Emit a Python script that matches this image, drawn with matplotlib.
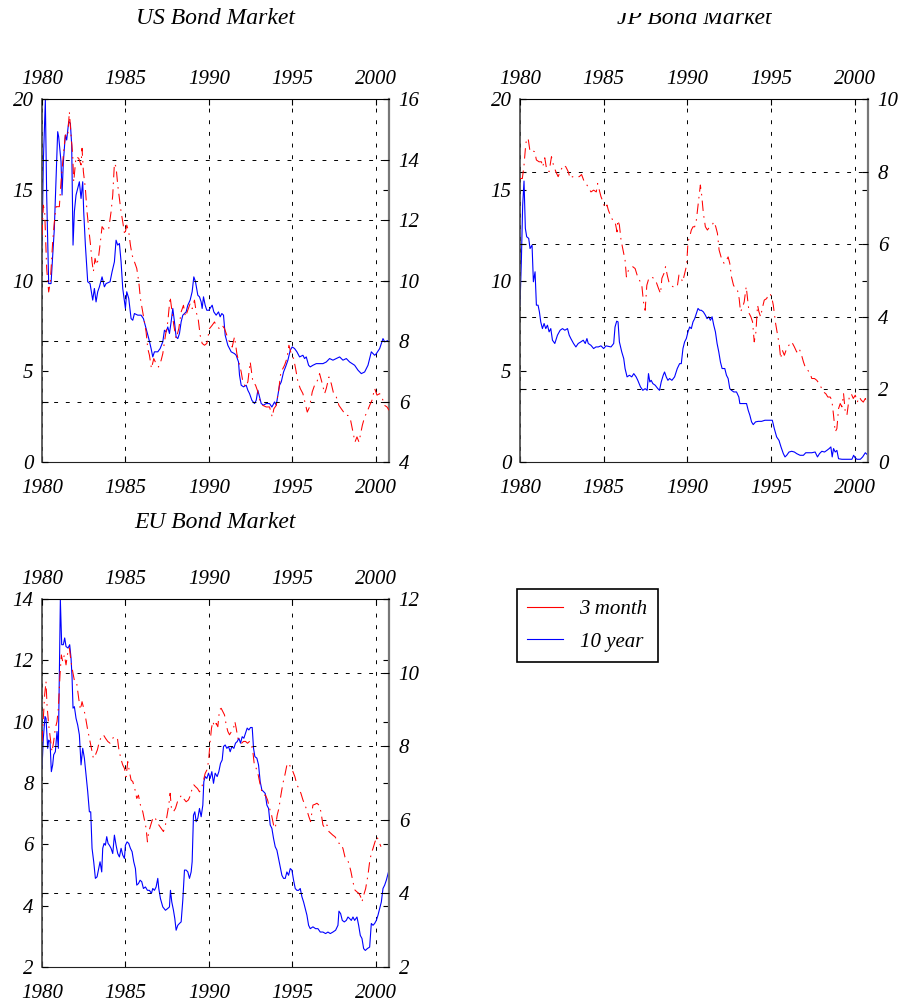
import matplotlib
matplotlib.use("Agg")
import matplotlib.pyplot as plt
from matplotlib.lines import Line2D
from matplotlib.patches import Rectangle

plt.rcParams["font.family"] = ["Liberation Serif", "DejaVu Serif"]
plt.rcParams["font.style"] = "italic"

# ---------------- US ----------------
us_10y_t = [1980.00, 1980.08, 1980.20, 1980.28, 1980.40, 1980.54, 1980.74, 1980.94, 1981.00, 1981.14,
            1981.20, 1981.28, 1981.40, 1981.48, 1981.60, 1981.70, 1981.78, 1981.86, 1981.94, 1982.04,
            1982.14, 1982.24, 1982.34, 1982.44, 1982.50, 1982.60, 1982.74, 1982.88, 1983.04, 1983.14,
            1983.24, 1983.34, 1983.44, 1983.60, 1983.74, 1983.84, 1984.08, 1984.20, 1984.34, 1984.44,
            1984.54, 1984.64, 1984.74, 1984.84, 1985.00, 1985.08, 1985.20, 1985.34, 1985.44, 1985.54,
            1985.74, 1985.94, 1986.08, 1986.24, 1986.40, 1986.54, 1986.64, 1986.74, 1986.94, 1987.08,
            1987.24, 1987.34, 1987.44, 1987.54, 1987.64, 1987.74, 1987.84, 1987.94, 1988.04, 1988.14,
            1988.24, 1988.34, 1988.44, 1988.64, 1988.74, 1988.88, 1989.00, 1989.10, 1989.20, 1989.34,
            1989.44, 1989.54, 1989.60, 1989.68, 1989.78, 1989.88, 1990.00, 1990.20, 1990.30, 1990.44,
            1990.58, 1990.68, 1990.78, 1990.88, 1990.98, 1991.14, 1991.34, 1991.54, 1991.64, 1991.78,
            1991.84, 1991.94, 1992.08, 1992.24, 1992.34, 1992.44, 1992.58, 1992.74, 1992.84, 1992.94,
            1993.04, 1993.14, 1993.28, 1993.44, 1993.64, 1993.78, 1993.94, 1994.04, 1994.14, 1994.24,
            1994.34, 1994.48, 1994.60, 1994.74, 1994.88, 1995.00, 1995.14, 1995.28, 1995.44, 1995.64,
            1995.74, 1995.84, 1995.98, 1996.08, 1996.24, 1996.44, 1996.84, 1997.04, 1997.24, 1997.44,
            1997.64, 1997.84, 1998.04, 1998.24, 1998.44, 1998.74, 1998.94, 1999.14, 1999.34, 1999.54,
            1999.64, 1999.74, 1999.94, 2000.04, 2000.24, 2000.44, 2000.54, 2000.80]
us_10y = [11.95, 16.54, 19.94, 14.71, 9.83, 9.83, 12.87, 18.20, 17.92, 16.54,
          14.71, 16.54, 18.01, 17.74, 18.75, 18.66, 17.46, 11.95, 13.79, 14.71,
          15.07, 15.44, 14.52, 15.44, 13.79, 11.95, 9.93, 9.83, 8.92, 9.56,
          8.82, 9.38, 9.65, 10.20, 9.65, 9.83, 9.93, 10.48, 11.03, 12.22,
          11.95, 12.04, 11.03, 9.56, 8.46, 9.38, 9.01, 7.90, 7.81, 8.18,
          8.09, 8.09, 7.90, 7.35, 6.80, 6.25, 5.79, 6.07, 6.07, 6.25,
          6.62, 7.26, 7.17, 7.44, 7.08, 7.72, 8.46, 7.72, 6.89, 6.80,
          7.08, 7.72, 8.09, 8.27, 8.64, 8.92, 9.38, 10.20, 9.93, 9.19,
          9.10, 8.82, 8.46, 9.10, 8.64, 8.36, 8.36, 8.64, 8.27, 8.09,
          8.27, 8.00, 8.18, 8.09, 6.99, 6.43, 6.07, 5.97, 5.88, 5.51,
          4.78, 4.23, 4.14, 4.23, 3.95, 3.77, 3.40, 3.22, 3.40, 3.95,
          3.58, 3.22, 3.13, 3.22, 3.22, 3.03, 3.31, 3.13, 3.68, 4.23,
          4.41, 4.96, 5.24, 5.61, 6.16, 6.34, 6.25, 6.07, 5.79, 5.88,
          5.70, 5.79, 5.33, 5.24, 5.33, 5.42, 5.42, 5.51, 5.70, 5.61,
          5.70, 5.79, 5.61, 5.70, 5.51, 5.33, 5.06, 4.87, 4.96, 5.33,
          5.70, 6.07, 5.88, 5.97, 6.25, 6.80, 6.62, 6.71]

us_3m_t = [1980.00, 1980.08, 1980.16, 1980.28, 1980.40, 1980.50, 1980.64, 1980.74, 1980.84, 1981.04,
           1981.14, 1981.28, 1981.40, 1981.54, 1981.64, 1981.74, 1981.84, 1981.90, 1982.04, 1982.20,
           1982.34, 1982.40, 1982.48, 1982.60, 1982.70, 1982.80, 1982.90, 1983.00, 1983.08, 1983.18,
           1983.28, 1983.38, 1983.50, 1983.60, 1983.74, 1983.88, 1984.00, 1984.14, 1984.24, 1984.34,
           1984.44, 1984.54, 1984.64, 1984.74, 1984.84, 1984.96, 1985.08, 1985.20, 1985.30, 1985.40,
           1985.54, 1985.68, 1985.80, 1985.90, 1986.04, 1986.14, 1986.24, 1986.34, 1986.44, 1986.56,
           1986.70, 1986.84, 1986.98, 1987.14, 1987.24, 1987.40, 1987.54, 1987.68, 1987.80, 1987.90,
           1988.04, 1988.20, 1988.34, 1988.48, 1988.60, 1988.74, 1988.88, 1989.00, 1989.14, 1989.24,
           1989.36, 1989.48, 1989.60, 1989.74, 1989.88, 1990.04, 1990.20, 1990.34, 1990.48, 1990.64,
           1990.80, 1990.94, 1991.08, 1991.24, 1991.40, 1991.54, 1991.68, 1991.80, 1991.94, 1992.04,
           1992.20, 1992.34, 1992.48, 1992.64, 1992.80, 1992.94, 1993.08, 1993.24, 1993.44, 1993.64,
           1993.80, 1993.90, 1994.04, 1994.20, 1994.32, 1994.44, 1994.54, 1994.68, 1994.80, 1994.94,
           1995.08, 1995.20, 1995.34, 1995.48, 1995.64, 1995.78, 1995.90, 1996.04, 1996.20, 1996.34,
           1996.48, 1996.64, 1996.80, 1996.94, 1997.04, 1997.20, 1997.34, 1997.48, 1997.64, 1997.80,
           1997.94, 1998.08, 1998.20, 1998.34, 1998.48, 1998.64, 1998.76, 1998.88, 1999.00, 1999.10,
           1999.20, 1999.34, 1999.48, 1999.64, 1999.78, 1999.94, 2000.08, 2000.24, 2000.40, 2000.54,
           2000.68, 2000.80]
us_3m = [11.50, 12.49, 12.27, 10.40, 9.62, 9.96, 11.28, 11.94, 12.44, 12.44,
         13.26, 14.15, 14.81, 14.75, 15.58, 14.81, 14.15, 13.26, 14.09, 14.04,
         13.82, 14.37, 13.60, 13.04, 12.27, 11.72, 11.22, 10.62, 10.29, 10.73,
         10.51, 10.73, 11.28, 11.78, 11.67, 11.67, 11.72, 12.27, 12.82, 13.87,
         13.76, 13.15, 12.71, 12.27, 11.94, 11.50, 11.83, 11.61, 11.17, 10.84,
         10.62, 10.40, 9.96, 9.40, 8.96, 8.63, 8.30, 7.75, 7.53, 7.09,
         7.42, 7.25, 7.14, 7.36, 7.58, 8.19, 8.63, 9.46, 8.96, 8.52,
         8.08, 8.41, 8.96, 9.18, 8.80, 9.02, 9.24, 9.07, 9.35, 8.96,
         8.74, 8.19, 7.92, 7.86, 7.92, 8.41, 8.52, 8.63, 8.47, 8.41,
         8.52, 8.41, 8.19, 7.97, 7.80, 8.14, 7.58, 7.31, 6.98, 6.65,
         6.48, 6.65, 7.31, 6.65, 6.54, 6.32, 5.99, 5.87, 5.82, 5.82,
         5.49, 5.76, 5.87, 6.43, 6.98, 7.09, 7.20, 7.42, 7.86, 7.58,
         7.42, 7.09, 6.65, 6.43, 6.26, 5.93, 5.65, 5.82, 6.32, 6.54,
         6.65, 6.92, 6.59, 6.26, 6.43, 6.81, 6.59, 6.26, 6.15, 5.87,
         5.76, 5.65, 5.54, 5.54, 5.43, 4.99, 4.66, 4.83, 4.66, 4.94,
         5.21, 5.49, 5.65, 5.87, 6.04, 6.43, 6.21, 6.26, 6.10, 5.87,
         5.82, 5.71]

# ---------------- JP ----------------
jp_10y_t = [1980.00, 1980.08, 1980.16, 1980.24, 1980.32, 1980.40, 1980.52, 1980.60, 1980.72, 1980.80,
            1980.90, 1980.98, 1981.08, 1981.16, 1981.24, 1981.34, 1981.44, 1981.54, 1981.64, 1981.74,
            1981.84, 1981.94, 1982.08, 1982.24, 1982.40, 1982.54, 1982.68, 1982.84, 1982.94, 1983.04,
            1983.20, 1983.34, 1983.48, 1983.64, 1983.78, 1983.90, 1984.00, 1984.08, 1984.24, 1984.40,
            1984.54, 1984.68, 1984.84, 1985.00, 1985.14, 1985.44, 1985.60, 1985.68, 1985.78, 1985.86,
            1985.94, 1986.08, 1986.20, 1986.28, 1986.40, 1986.54, 1986.68, 1986.80, 1986.94, 1987.04,
            1987.20, 1987.34, 1987.48, 1987.60, 1987.68, 1987.76, 1987.84, 1987.94, 1988.08, 1988.24,
            1988.34, 1988.44, 1988.56, 1988.64, 1988.74, 1988.84, 1988.94, 1989.08, 1989.24, 1989.40,
            1989.54, 1989.64, 1989.74, 1989.84, 1989.94, 1990.04, 1990.14, 1990.24, 1990.34, 1990.44,
            1990.54, 1990.64, 1990.74, 1990.84, 1990.96, 1991.08, 1991.18, 1991.28, 1991.38, 1991.48,
            1991.58, 1991.68, 1991.78, 1991.88, 1991.98, 1992.08, 1992.24, 1992.34, 1992.44, 1992.54,
            1992.64, 1992.78, 1992.94, 1993.08, 1993.14, 1993.54, 1993.64, 1993.74, 1993.84, 1993.94,
            1994.08, 1994.24, 1994.44, 1994.64, 1995.08, 1995.20, 1995.34, 1995.48, 1995.60, 1995.74,
            1995.84, 1995.94, 1996.08, 1996.24, 1996.40, 1996.54, 1996.74, 1996.94, 1997.08, 1997.44,
            1997.64, 1997.78, 1997.90, 1998.04, 1998.20, 1998.34, 1998.48, 1998.58, 1998.66, 1998.74,
            1998.84, 1998.94, 1999.04, 1999.24, 1999.84, 1999.94, 2000.04, 2000.14, 2000.34, 2000.48,
            2000.64, 2000.80]
jp_10y = [8.64, 11.03, 14.15, 15.48, 12.87, 12.41, 12.32, 11.76, 11.95, 9.93,
          10.48, 8.64, 8.64, 8.27, 7.72, 7.35, 7.63, 7.35, 7.54, 7.17,
          7.35, 6.71, 6.53, 6.99, 7.26, 7.35, 7.26, 7.35, 6.99, 6.80,
          6.53, 6.34, 6.53, 6.62, 6.71, 6.53, 6.80, 6.53, 6.43, 6.25,
          6.34, 6.34, 6.40, 6.25, 6.40, 6.34, 6.53, 7.44, 7.76, 7.72,
          6.62, 6.07, 5.70, 5.15, 4.69, 4.78, 4.69, 4.87, 4.69, 4.50,
          4.14, 3.95, 4.04, 3.95, 4.87, 4.41, 4.50, 4.32, 4.23, 4.04,
          3.95, 4.41, 4.78, 4.96, 4.69, 4.50, 4.60, 4.50, 4.69, 5.15,
          5.42, 5.42, 6.25, 6.62, 6.80, 7.17, 7.44, 7.35, 7.72, 7.90,
          8.18, 8.46, 8.36, 8.36, 8.27, 8.09, 7.90, 8.00, 7.81, 8.00,
          7.54, 7.17, 6.53, 6.07, 5.51, 5.15, 5.15, 4.78, 4.60, 4.04,
          3.95, 3.86, 3.86, 3.58, 3.22, 3.22, 2.85, 2.57, 2.21, 2.06,
          2.21, 2.24, 2.24, 2.30, 2.30, 1.84, 1.38, 1.19, 0.83, 0.46,
          0.28, 0.37, 0.55, 0.59, 0.55, 0.46, 0.37, 0.37, 0.51, 0.51,
          0.55, 0.28, 0.46, 0.59, 0.55, 0.64, 0.74, 0.83, 0.28, 0.74,
          0.55, 0.64, 0.18, 0.15, 0.15, 0.37, 0.22, 0.15, 0.15, 0.28,
          0.51, 0.37]

jp_3m_t = [1980.00, 1980.14, 1980.24, 1980.34, 1980.40, 1980.50, 1980.60, 1980.74, 1980.88, 1980.98,
           1981.14, 1981.28, 1981.36, 1981.48, 1981.60, 1981.74, 1981.88, 1982.00, 1982.14, 1982.28,
           1982.44, 1982.60, 1982.74, 1982.88, 1983.00, 1983.14, 1983.34, 1983.54, 1983.68, 1983.84,
           1984.00, 1984.12, 1984.24, 1984.40, 1984.56, 1984.64, 1984.74, 1984.84, 1984.96, 1985.08,
           1985.20, 1985.28, 1985.40, 1985.54, 1985.68, 1985.80, 1985.84, 1985.94, 1986.04, 1986.20,
           1986.28, 1986.36, 1986.48, 1986.60, 1986.74, 1986.88, 1987.00, 1987.14, 1987.28, 1987.38,
           1987.48, 1987.58, 1987.70, 1987.84, 1988.00, 1988.14, 1988.28, 1988.40, 1988.48, 1988.60,
           1988.70, 1988.80, 1988.90, 1989.00, 1989.14, 1989.28, 1989.40, 1989.50, 1989.60, 1989.72,
           1989.84, 1989.96, 1990.04, 1990.14, 1990.24, 1990.34, 1990.44, 1990.54, 1990.64, 1990.70,
           1990.78, 1990.86, 1990.96, 1991.08, 1991.20, 1991.34, 1991.48, 1991.60, 1991.70, 1991.80,
           1991.90, 1992.04, 1992.20, 1992.34, 1992.44, 1992.54, 1992.64, 1992.76, 1992.88, 1993.00,
           1993.10, 1993.18, 1993.28, 1993.40, 1993.52, 1993.60, 1993.70, 1993.80, 1993.90, 1994.00,
           1994.10, 1994.20, 1994.28, 1994.38, 1994.48, 1994.60, 1994.74, 1994.84, 1994.94, 1995.04,
           1995.14, 1995.28, 1995.40, 1995.50, 1995.58, 1995.68, 1995.80, 1995.94, 1996.08, 1996.24,
           1996.40, 1996.54, 1996.68, 1996.80, 1996.94, 1997.08, 1997.20, 1997.34, 1997.44, 1997.60,
           1997.74, 1997.88, 1998.04, 1998.14, 1998.28, 1998.40, 1998.54, 1998.64, 1998.74, 1998.84,
           1998.94, 1999.04, 1999.14, 1999.24, 1999.34, 1999.44, 1999.54, 1999.68, 1999.80, 1999.92,
           2000.04, 2000.16, 2000.28, 2000.40, 2000.52, 2000.64, 2000.74]
jp_3m = [7.81, 7.81, 8.18, 8.73, 8.92, 8.87, 8.55, 8.57, 8.55, 8.32,
         8.27, 8.27, 8.13, 8.38, 8.04, 8.00, 8.41, 8.18, 8.00, 7.86,
         8.04, 8.18, 8.13, 8.00, 7.81, 7.86, 7.86, 7.86, 7.92, 7.72,
         7.63, 7.54, 7.44, 7.49, 7.44, 7.67, 7.49, 7.31, 7.17, 6.99,
         7.08, 6.94, 6.80, 6.66, 6.62, 6.34, 6.66, 6.53, 6.11, 5.74,
         5.56, 5.10, 5.28, 5.33, 5.38, 5.33, 5.15, 5.01, 4.87, 4.41,
         4.18, 4.87, 5.06, 5.10, 5.06, 4.96, 4.78, 4.64, 5.06, 5.19,
         5.38, 5.15, 4.96, 4.87, 4.83, 4.83, 4.83, 5.15, 5.10, 4.96,
         5.19, 5.42, 6.07, 6.20, 6.39, 6.48, 6.48, 6.66, 7.08, 7.31,
         7.63, 7.35, 6.85, 6.48, 6.39, 6.48, 6.53, 6.62, 6.48, 6.30,
         5.84, 5.61, 5.47, 5.56, 5.65, 5.47, 5.10, 4.87, 4.78, 4.73,
         4.50, 4.14, 4.23, 4.41, 4.83, 4.50, 4.09, 4.00, 3.86, 3.31,
         3.58, 4.32, 4.14, 4.00, 4.23, 4.46, 4.50, 4.60, 4.64, 4.55,
         4.32, 3.81, 3.49, 3.22, 2.85, 3.08, 2.94, 3.13, 3.22, 3.31,
         3.17, 3.03, 3.13, 2.99, 2.76, 2.57, 2.53, 2.44, 2.30, 2.30,
         2.25, 2.16, 2.02, 1.93, 1.88, 1.79, 1.79, 1.70, 1.29, 0.83,
         0.92, 1.47, 1.61, 1.52, 1.88, 1.38, 1.29, 1.79, 1.88, 1.75,
         1.84, 1.65, 1.79, 1.70, 1.65, 1.75, 1.65]

# ---------------- EU ----------------
eu_10y_t = [1980.00, 1980.08, 1980.18, 1980.24, 1980.34, 1980.40, 1980.48, 1980.56, 1980.64, 1980.70,
            1980.80, 1980.90, 1980.98, 1981.04, 1981.10, 1981.18, 1981.28, 1981.36, 1981.44, 1981.56,
            1981.66, 1981.74, 1981.80, 1981.86, 1981.94, 1982.04, 1982.14, 1982.24, 1982.34, 1982.44,
            1982.54, 1982.64, 1982.74, 1982.84, 1982.92, 1983.00, 1983.10, 1983.20, 1983.30, 1983.40,
            1983.48, 1983.58, 1983.64, 1983.72, 1983.80, 1983.88, 1983.96, 1984.04, 1984.14, 1984.24,
            1984.34, 1984.44, 1984.54, 1984.64, 1984.74, 1984.84, 1984.94, 1985.00, 1985.10, 1985.20,
            1985.30, 1985.40, 1985.50, 1985.60, 1985.68, 1985.78, 1985.88, 1985.98, 1986.08, 1986.20,
            1986.32, 1986.44, 1986.56, 1986.64, 1986.74, 1986.84, 1986.94, 1987.00, 1987.10, 1987.24,
            1987.40, 1987.54, 1987.64, 1987.70, 1987.78, 1987.88, 1987.96, 1988.04, 1988.14, 1988.24,
            1988.34, 1988.44, 1988.54, 1988.64, 1988.74, 1988.84, 1988.94, 1989.00, 1989.08, 1989.16,
            1989.24, 1989.34, 1989.44, 1989.54, 1989.64, 1989.70, 1989.78, 1989.88, 1989.98, 1990.08,
            1990.18, 1990.28, 1990.38, 1990.50, 1990.60, 1990.70, 1990.80, 1990.88, 1990.98, 1991.08,
            1991.18, 1991.28, 1991.38, 1991.50, 1991.60, 1991.70, 1991.80, 1991.90, 1992.00, 1992.10,
            1992.20, 1992.30, 1992.40, 1992.50, 1992.60, 1992.68, 1992.76, 1992.88, 1992.98, 1993.08,
            1993.18, 1993.28, 1993.38, 1993.48, 1993.58, 1993.68, 1993.78, 1993.88, 1993.98, 1994.08,
            1994.18, 1994.28, 1994.38, 1994.48, 1994.58, 1994.68, 1994.78, 1994.88, 1994.98, 1995.08,
            1995.18, 1995.28, 1995.38, 1995.48, 1995.58, 1995.68, 1995.78, 1995.88, 1995.98, 1996.08,
            1996.24, 1996.40, 1996.54, 1996.68, 1996.84, 1997.00, 1997.14, 1997.28, 1997.44, 1997.60,
            1997.74, 1997.80, 1997.90, 1998.00, 1998.12, 1998.24, 1998.34, 1998.44, 1998.54, 1998.64,
            1998.74, 1998.88, 1998.98, 1999.08, 1999.18, 1999.28, 1999.38, 1999.50, 1999.64, 1999.74,
            1999.84, 1999.94, 2000.04, 2000.14, 2000.24, 2000.34, 2000.44, 2000.54, 2000.64, 2000.80]
eu_10y = [8.48, 9.46, 10.17, 10.11, 9.13, 9.40, 9.35, 8.37, 8.59, 8.92,
          9.02, 9.68, 9.13, 11.64, 13.98, 12.51, 12.51, 12.73, 12.45, 12.40,
          12.51, 12.07, 11.47, 10.44, 10.49, 10.11, 9.89, 9.57, 8.59, 9.13,
          8.81, 8.26, 7.72, 7.06, 7.06, 5.87, 5.43, 4.89, 4.94, 5.21,
          5.43, 5.10, 5.87, 6.03, 5.97, 6.25, 6.03, 5.97, 5.87, 5.70,
          6.30, 5.97, 5.70, 5.59, 5.87, 5.65, 5.54, 5.97, 6.08, 6.03,
          5.87, 5.76, 5.43, 5.21, 4.67, 4.72, 4.83, 4.78, 4.56, 4.61,
          4.50, 4.50, 4.40, 4.56, 4.50, 4.61, 4.89, 4.56, 4.23, 3.96,
          3.85, 3.91, 3.96, 4.50, 4.12, 3.85, 3.58, 3.20, 3.36, 3.42,
          3.47, 4.18, 5.16, 5.16, 5.10, 4.89, 5.10, 5.43, 6.95, 7.06,
          6.74, 6.85, 7.17, 6.90, 7.28, 8.04, 8.21, 8.15, 8.32, 8.15,
          8.37, 7.99, 8.32, 8.21, 8.37, 8.64, 8.75, 9.19, 9.24, 9.13,
          9.19, 9.02, 9.19, 9.13, 9.30, 9.35, 9.46, 9.30, 9.51, 9.46,
          9.62, 9.79, 9.73, 9.81, 9.81, 9.13, 8.86, 8.81, 8.59, 8.04,
          7.77, 7.72, 7.66, 7.28, 7.17, 6.63, 6.52, 6.19, 5.92, 5.81,
          5.54, 5.27, 4.99, 4.89, 4.89, 5.10, 4.99, 5.21, 5.16, 4.83,
          4.56, 4.50, 4.50, 4.56, 4.29, 4.12, 3.91, 3.69, 3.36, 3.25,
          3.31, 3.25, 3.25, 3.14, 3.14, 3.09, 3.14, 3.09, 3.14, 3.20,
          3.36, 3.82, 3.74, 3.52, 3.47, 3.52, 3.63, 3.58, 3.52, 3.63,
          3.52, 3.63, 3.36, 3.03, 2.93, 2.60, 2.54, 2.60, 2.65, 3.42,
          3.36, 3.42, 3.52, 3.69, 3.91, 4.12, 4.56, 4.67, 4.83, 5.16]

eu_3m_t = [1980.00, 1980.08, 1980.16, 1980.24, 1980.30, 1980.40, 1980.50, 1980.60, 1980.70, 1980.80,
           1980.90, 1980.98, 1981.08, 1981.16, 1981.24, 1981.34, 1981.44, 1981.54, 1981.64, 1981.74,
           1981.84, 1981.96, 1982.08, 1982.20, 1982.30, 1982.40, 1982.50, 1982.60, 1982.72, 1982.84,
           1982.96, 1983.08, 1983.20, 1983.32, 1983.44, 1983.56, 1983.68, 1983.80, 1983.94, 1984.08,
           1984.24, 1984.40, 1984.52, 1984.60, 1984.72, 1984.84, 1984.94, 1985.04, 1985.14, 1985.24,
           1985.34, 1985.44, 1985.56, 1985.68, 1985.78, 1985.90, 1986.04, 1986.16, 1986.24, 1986.32,
           1986.40, 1986.52, 1986.64, 1986.76, 1986.88, 1987.00, 1987.14, 1987.28, 1987.40, 1987.50,
           1987.60, 1987.68, 1987.76, 1987.88, 1988.00, 1988.12, 1988.24, 1988.36, 1988.48, 1988.64,
           1988.78, 1988.90, 1989.00, 1989.10, 1989.20, 1989.32, 1989.44, 1989.56, 1989.68, 1989.78,
           1989.88, 1989.98, 1990.08, 1990.16, 1990.24, 1990.34, 1990.44, 1990.54, 1990.64, 1990.74,
           1990.84, 1990.94, 1991.04, 1991.14, 1991.24, 1991.36, 1991.48, 1991.56, 1991.64, 1991.74,
           1991.84, 1991.96, 1992.08, 1992.20, 1992.32, 1992.44, 1992.56, 1992.64, 1992.74, 1992.84,
           1992.96, 1993.08, 1993.18, 1993.28, 1993.40, 1993.52, 1993.64, 1993.76, 1993.88, 1993.98,
           1994.10, 1994.20, 1994.32, 1994.44, 1994.56, 1994.68, 1994.80, 1994.92, 1995.04, 1995.16,
           1995.28, 1995.40, 1995.52, 1995.64, 1995.76, 1995.88, 1996.00, 1996.10, 1996.24, 1996.36,
           1996.48, 1996.60, 1996.72, 1996.84, 1996.96, 1997.08, 1997.20, 1997.32, 1997.44, 1997.56,
           1997.68, 1997.80, 1997.92, 1998.04, 1998.16, 1998.28, 1998.40, 1998.52, 1998.64, 1998.76,
           1998.88, 1999.00, 1999.10, 1999.18, 1999.28, 1999.40, 1999.54, 1999.64, 1999.74, 1999.84,
           1999.96, 2000.08, 2000.20, 2000.32]
eu_3m = [8.13, 8.76, 9.40, 9.76, 9.12, 8.58, 8.22, 7.85, 8.13, 8.49,
         8.67, 9.03, 9.94, 10.48, 10.30, 10.48, 10.21, 10.53, 10.67, 10.30,
         10.03, 9.74, 9.71, 9.30, 8.99, 9.21, 9.03, 8.81, 8.49, 8.22,
         7.94, 7.67, 7.76, 7.90, 8.13, 8.26, 8.31, 8.22, 8.13, 8.08,
         8.22, 8.26, 8.22, 7.94, 7.67, 7.49, 7.40, 7.17, 7.58, 7.31,
         7.08, 7.04, 6.85, 6.58, 6.67, 6.40, 6.22, 5.95, 5.77, 5.40,
         5.68, 5.86, 6.04, 6.08, 5.95, 5.86, 5.77, 5.68, 5.86, 6.13,
         6.40, 6.72, 6.31, 6.22, 6.31, 6.49, 6.58, 6.67, 6.58, 6.49,
         6.54, 6.67, 6.85, 6.95, 6.90, 6.85, 6.76, 6.85, 7.08, 7.26,
         7.35, 7.58, 8.13, 8.49, 8.67, 8.53, 8.62, 8.53, 8.99, 9.03,
         8.94, 8.85, 8.58, 8.40, 8.31, 8.40, 8.49, 8.67, 8.49, 8.22,
         8.13, 8.08, 8.13, 8.13, 8.08, 8.13, 8.03, 7.85, 7.44, 7.40,
         7.22, 6.95, 6.76, 6.67, 6.67, 6.54, 6.31, 6.13, 5.86, 5.77,
         6.13, 6.31, 6.67, 6.99, 7.22, 7.49, 7.54, 7.40, 7.31, 7.17,
         6.95, 6.85, 6.72, 6.54, 6.40, 6.26, 6.08, 5.95, 6.40, 6.42,
         6.45, 6.40, 6.22, 5.86, 5.77, 5.86, 5.68, 5.63, 5.58, 5.54,
         5.45, 5.36, 5.36, 5.22, 4.99, 4.95, 4.81, 4.59, 4.31, 4.09,
         4.04, 4.00, 3.91, 3.77, 3.95, 4.13, 4.50, 4.86, 5.09, 5.22,
         5.40, 5.54, 5.40, 5.27]

# panel settings: title, 10y on the left axis, 3m on the right axis
panels = [
    ("US Bond Market", us_10y_t, us_10y, us_3m_t, us_3m,
     (0, 20), [0, 5, 10, 15, 20], (4, 16), [4, 6, 8, 10, 12, 14, 16]),
    ("JP Bond Market", jp_10y_t, jp_10y, jp_3m_t, jp_3m,
     (0, 20), [0, 5, 10, 15, 20], (0, 10), [0, 2, 4, 6, 8, 10]),
    ("EU Bond Market", eu_10y_t, eu_10y, eu_3m_t, eu_3m,
     (2, 14), [2, 4, 6, 8, 10, 12, 14], (2, 12), [2, 4, 6, 8, 10, 12]),
]
years = [1980, 1985, 1990, 1995, 2000]

W, H = 904, 1006
fig = plt.figure(figsize=(W / 100, H / 100), dpi=100)


def px_rect(left, top, right, bottom):
    return [left / W, 1 - bottom / H, (right - left) / W, (bottom - top) / H]


rects = [px_rect(42, 99, 389, 462), px_rect(520, 99, 868, 462), px_rect(42, 599, 389, 967)]
title_y = [18, 18, 522]

grid_kw = dict(color="black", linewidth=0.7, linestyle=(0, (4, 8)))
dash_red = (0, (10, 5, 1.5, 5))
fs = 15

for (title, t10, v10, t3, v3, ylim1, yt1, ylim2, yt2), rect, ty in zip(panels, rects, title_y):
    ax = fig.add_axes(rect)
    ax2 = ax.twinx()
    ax2.xaxis.set_visible(True)

    ax.plot(t10, v10, color="blue", linewidth=0.8)
    ax2.plot(t3, v3, color="red", linewidth=0.75, linestyle=dash_red)

    ax.set_xlim(1980, 2000.8)
    ax.set_xticks(years)
    ax.set_ylim(*ylim1)
    ax.set_yticks(yt1)
    ax2.set_ylim(*ylim2)
    ax2.set_yticks(yt2)

    # bottom year labels on the main axes, top ones on the twin
    ax.tick_params(axis="x", direction="in", top=False, bottom=True,
                   labeltop=False, labelbottom=True, labelsize=fs, length=4, pad=12)
    ax2.tick_params(axis="x", direction="in", top=True, bottom=False,
                    labeltop=True, labelbottom=False, labelsize=fs, length=4, pad=7)
    ax.tick_params(axis="y", direction="in", left=True, right=True,
                   labelleft=True, labelright=False, labelsize=fs, length=4, pad=6)
    ax2.tick_params(axis="y", direction="in", left=True, right=True,
                    labelleft=False, labelright=True, labelsize=fs, length=4, pad=7)

    ax.grid(axis="x", **grid_kw)
    ax2.grid(axis="y", **grid_kw)

    for side in ["top", "bottom", "left", "right"]:
        ax2.spines[side].set_visible(False)
    ax.spines["top"].set_color("black")
    ax.spines["bottom"].set_color("#222222")
    ax.spines["left"].set_color("#444444")
    ax.spines["right"].set_color("#777777")
    ax.spines["right"].set_linewidth(1.6)
    ax.spines["left"].set_linewidth(1.2)

    fig.text((rect[0] + rect[2] / 2), 1 - ty / H, title, ha="center", va="center",
             fontsize=17)

# upper part of the JP title is blanked out
fig.add_artist(Rectangle((600 / W, 1 - 13 / H), 190 / W, 13 / H, transform=fig.transFigure,
                         facecolor="white", edgecolor="none", zorder=10))

handles = [Line2D([], [], color="red", linewidth=0.8),
           Line2D([], [], color="blue", linewidth=0.8)]
leg = fig.legend(handles, ["3 month", "10 year"], loc="upper left",
                 bbox_to_anchor=(517 / W, 1 - 589 / H), fontsize=fs, frameon=True,
                 fancybox=False, edgecolor="black", framealpha=1, handlelength=1.7,
                 handletextpad=0.8, borderpad=0.5, labelspacing=0.62, borderaxespad=0)
leg.get_frame().set_linewidth(1.2)

fig.savefig("out.png", dpi=100)
